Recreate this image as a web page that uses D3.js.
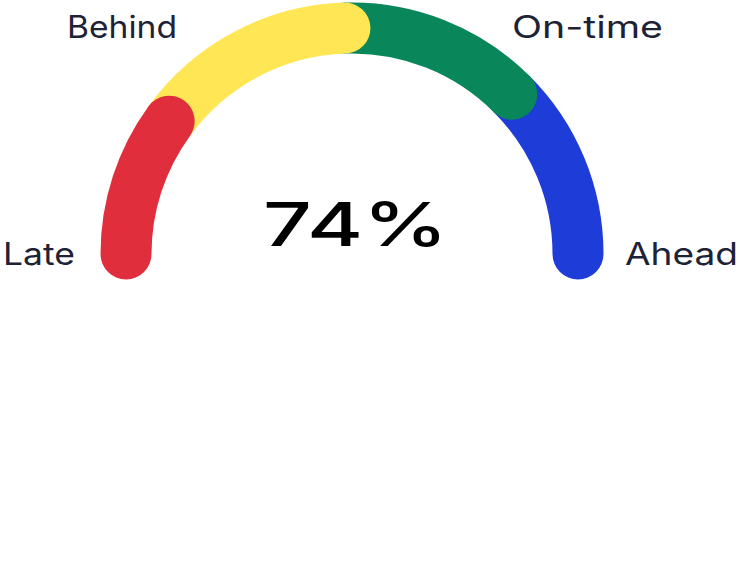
<!DOCTYPE html>
<html>
<head>
<meta charset="utf-8">
<script src="https://cdn.jsdelivr.net/npm/d3@7"></script>
<style>
  html, body { margin: 0; padding: 0; background: #fff; }
  svg text { font-family: Inter, "Open Sans", sans-serif; }
</style>
</head>
<body>
<svg id="chart" width="741" height="562"></svg>
<script>
// 仪表盘数据
const categories = ["Late", "Behind", "On-time", "Ahead"];
const shares = [20, 29, 26, 25];           // 每段所占百分比
const colors = ["#e02e3c", "#fee655", "#0a875a", "#1e3cd7"];
const score = 74;

const width = 741, height = 562;
const cx = 352, cy = 254;
const radius = 226;
const thickness = 51;

const svg = d3.select("#chart");

// 0..100 映射到左端(π)到右端(2π)
const angle = d3.scaleLinear().domain([0, d3.sum(shares)]).range([Math.PI, 2 * Math.PI]);

let acc = 0;
const segs = shares.map((v, i) => {
    const s = { name: categories[i], start: acc, end: acc + v, color: colors[i] };
    acc += v;
    return s;
});

// 后面的段先画，前面的段的圆头压在上面
svg.append("g")
    .selectAll("path")
    .data(segs.slice().reverse())
    .enter()
    .append("path")
    .attr("d", d => {
        const p = d3.path();
        const a0 = angle(d.start), a1 = angle(d.end);
        p.moveTo(cx + radius * Math.cos(a0), cy + radius * Math.sin(a0));
        p.arc(cx, cy, radius, a0, a1);
        return p.toString();
    })
    .attr("fill", "none")
    .attr("stroke", d => d.color)
    .attr("stroke-width", thickness)
    .attr("stroke-linecap", "round");

// 标签位置（左边缘、基线、宽度）
const labelPos = [
    { x: 3, y: 265, w: 72 },
    { x: 67, y: 38, w: 110 },
    { x: 512, y: 38, w: 151 },
    { x: 625, y: 265, w: 113 }
];

svg.append("g")
    .selectAll("text")
    .data(categories)
    .enter()
    .append("text")
    .attr("x", (d, i) => labelPos[i].x)
    .attr("y", (d, i) => labelPos[i].y)
    .attr("textLength", (d, i) => labelPos[i].w)
    .attr("lengthAdjust", "spacingAndGlyphs")
    .attr("font-size", 31)
    .attr("fill", "#1e2235")
    .text(d => d);

// 中间的百分比
svg.append("text")
    .attr("x", 263)
    .attr("y", 246)
    .attr("textLength", 185)
    .attr("lengthAdjust", "spacingAndGlyphs")
    .attr("font-size", 61)
    .attr("font-weight", 500)
    .attr("fill", "#000")
    .text(score + "%");
</script>
</body>
</html>
